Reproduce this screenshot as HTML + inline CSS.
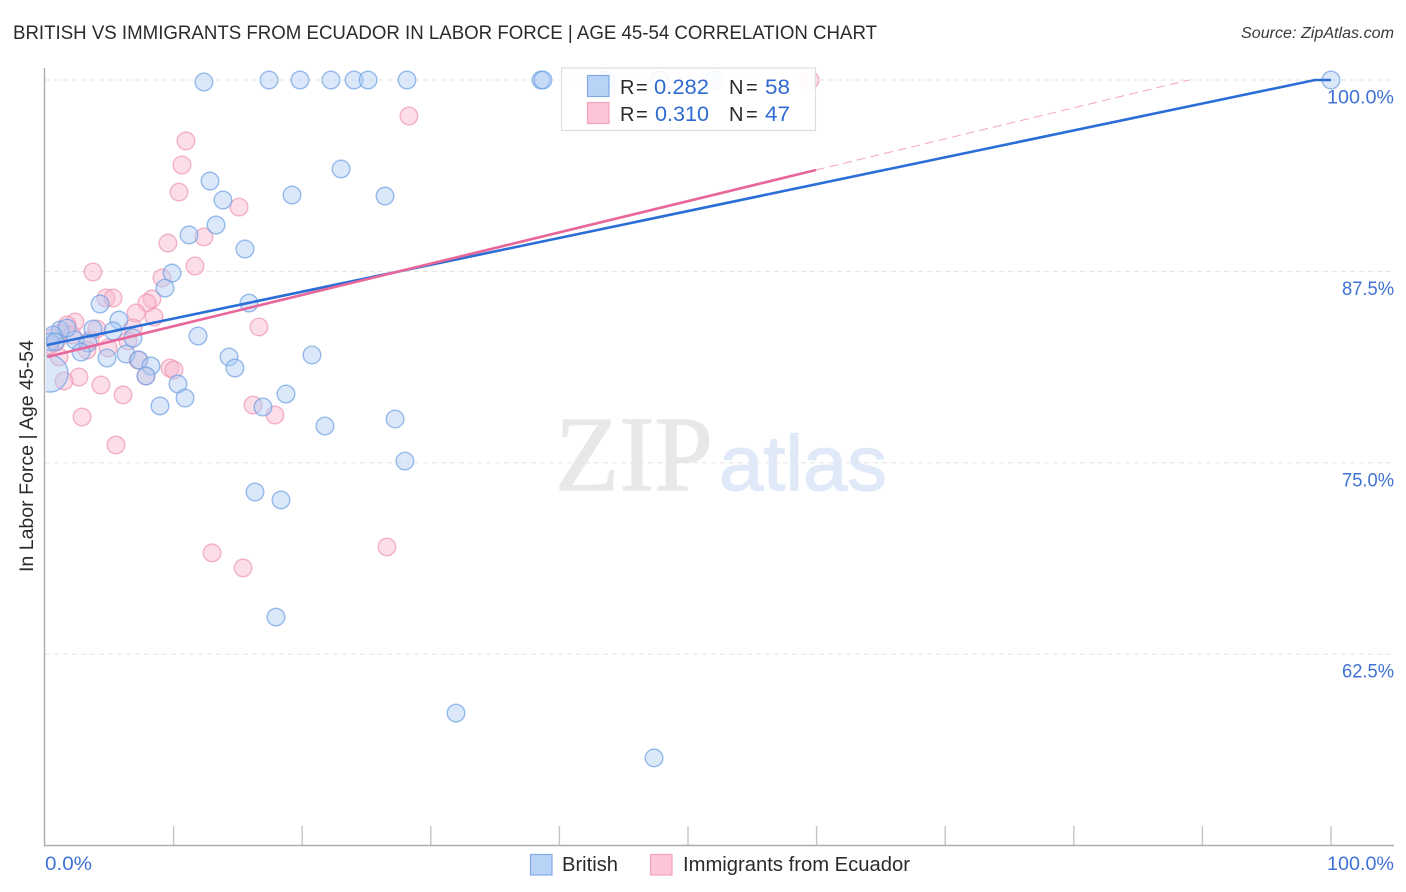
<!DOCTYPE html>
<html lang="en">
<head>
<meta charset="utf-8">
<title>British vs Immigrants from Ecuador in Labor Force Correlation Chart</title>
<style>
html,body{margin:0;padding:0;background:#fff;}
svg{display:block;font-family:"Liberation Sans",sans-serif;}
</style>
</head>
<body>
<svg id="chart" width="1406" height="892" viewBox="0 0 1406 892" xmlns="http://www.w3.org/2000/svg">
  <defs>
    <clipPath id="plot-clip"><rect x="46" y="60" width="1350" height="785"/></clipPath>
  </defs>
  <rect x="0" y="0" width="1406" height="892" fill="#ffffff"/>
  <text x="13" y="39" font-size="19" fill="#2b2b2b" textLength="864" lengthAdjust="spacingAndGlyphs">BRITISH VS IMMIGRANTS FROM ECUADOR IN LABOR FORCE | AGE 45-54 CORRELATION CHART</text>
  <text x="1241" y="38" font-size="15.5" font-style="italic" fill="#3a3a3a" textLength="153" lengthAdjust="spacingAndGlyphs">Source: ZipAtlas.com</text>

  <g>
    <text x="555" y="490" font-family="'Liberation Serif',serif" font-size="107" fill="#e8e8e8" stroke="#e8e8e8" stroke-width="1.2" textLength="158" lengthAdjust="spacingAndGlyphs">ZIP</text>
    <text x="719" y="490" font-size="78" fill="#dfe9f8" stroke="#dfe9f8" stroke-width="1.2" textLength="168" lengthAdjust="spacingAndGlyphs">atlas</text>
  </g>

  <g id="grid"></g>
  <g id="ticks"></g>
  <line x1="44.5" y1="68" x2="44.5" y2="846" stroke="#ababab" stroke-width="1.4"/>
  <line x1="44" y1="845.5" x2="1394" y2="845.5" stroke="#ababab" stroke-width="1.4"/>

  <g id="pink-points" clip-path="url(#plot-clip)"></g>
  <g id="blue-points" clip-path="url(#plot-clip)"></g>
  <g id="trends"></g>
  <g id="y-labels"></g>

  <text x="45" y="870" font-size="19" fill="#3f72d4" textLength="47" lengthAdjust="spacingAndGlyphs">0.0%</text>
  <text x="1327" y="870" font-size="19" fill="#3f72d4" textLength="67" lengthAdjust="spacingAndGlyphs">100.0%</text>
  <text transform="translate(33,572) rotate(-90)" font-size="19" fill="#2b2b2b" textLength="232" lengthAdjust="spacingAndGlyphs">In Labor Force | Age 45-54</text>

  <g>
    <rect x="561.5" y="68" width="254" height="62.5" fill="#ffffff" fill-opacity="0.9" stroke="#dddddd" stroke-width="1.2"/>
    <rect x="587.5" y="75.5" width="21.5" height="21" fill="#b9d3f6" stroke="#80abe6" stroke-width="1.2"/>
    <rect x="587.5" y="102.5" width="21.5" height="21" fill="#fcc6d8" stroke="#f2a3bc" stroke-width="1.2"/>
    <text x="620" y="94" font-size="20" fill="#2b2b2b" word-spacing="-4">R =</text>
    <text x="654" y="94" font-size="21.5" fill="#2f6bd0" textLength="55" lengthAdjust="spacingAndGlyphs">0.282</text>
    <text x="729" y="94" font-size="20" fill="#2b2b2b" word-spacing="-3">N =</text>
    <text x="765" y="94" font-size="21.5" fill="#2f6bd0" textLength="25" lengthAdjust="spacingAndGlyphs">58</text>
    <text x="620" y="121" font-size="20" fill="#2b2b2b" word-spacing="-4">R =</text>
    <text x="655" y="121" font-size="21.5" fill="#2f6bd0" textLength="54" lengthAdjust="spacingAndGlyphs">0.310</text>
    <text x="729" y="121" font-size="20" fill="#2b2b2b" word-spacing="-3">N =</text>
    <text x="765" y="121" font-size="21.5" fill="#2f6bd0" textLength="25" lengthAdjust="spacingAndGlyphs">47</text>
  </g>

  <g>
    <rect x="530.5" y="854.5" width="21.5" height="20.5" fill="#b9d3f6" stroke="#80abe6" stroke-width="1.2"/>
    <text x="562" y="871" font-size="20" fill="#2b2b2b" textLength="56" lengthAdjust="spacingAndGlyphs">British</text>
    <rect x="650.5" y="854.5" width="21.5" height="20.5" fill="#fcc6d8" stroke="#f2a3bc" stroke-width="1.2"/>
    <text x="683" y="871" font-size="20" fill="#2b2b2b" textLength="227" lengthAdjust="spacingAndGlyphs">Immigrants from Ecuador</text>
  </g>
</svg>
<script>
const xTickValues = [10, 20, 30, 40, 50, 60, 70, 80, 90, 100];
const yTickValues = [100, 87.5, 75, 62.5];
const yTickLabels = ["100.0%", "87.5%", "75.0%", "62.5%"];

const britishPoints = [
  [12.36,99.87],[17.42,100],[19.83,100],[22.24,100],[24.03,100],[25.12,100],[28.15,100],
  [38.57,100],[38.72,100],[43.62,100],[47.82,100],[52.02,100],[100,100],
  [12.83,93.40],[13.84,92.16],[19.21,92.49],[23.02,94.19],[26.44,92.42],[13.30,90.53],
  [11.20,89.88],[15.55,88.96],[9.88,87.39],[9.33,86.41],[4.28,85.37],[15.86,85.43],
  [5.75,84.32],[11.90,83.28],[3.73,83.74],[5.29,83.61],[6.84,83.15],[2.33,83.02],
  [3.34,82.82],[2.80,82.23],[4.82,81.84],[6.30,82.10],[7.31,81.71],[8.24,81.32],
  [7.85,80.67],[14.31,81.91],[14.77,81.19],[20.76,82.04],[10.34,80.14],[18.74,79.49],
  [8.94,78.71],[10.89,79.23],[16.95,78.64],[21.77,77.40],[27.22,77.86],[27.99,75.11],
  [16.33,73.09],[18.35,72.57],[17.96,64.92],[31.96,58.65],[47.36,55.72],
  [1.17,83.67],[1.71,83.80],[0.62,83.34],[0.39,82.89],[0.78,82.89]
];
const britishLargePoints = [[0.35,80.83]];
const ecuadorPoints = [
  [59.49,100],[28.30,97.65],[10.96,96.02],[10.65,94.45],[10.42,92.68],[15.09,91.70],
  [12.36,89.75],[9.56,89.35],[11.66,87.85],[3.73,87.46],[9.10,87.07],[4.74,85.76],
  [5.29,85.76],[8.32,85.70],[7.93,85.44],[7.08,84.78],[8.48,84.52],[2.33,84.19],
  [1.71,84.00],[16.64,83.87],[6.84,83.80],[3.50,83.02],[4.04,83.74],[6.45,82.95],
  [4.90,82.50],[3.27,82.36],[1.09,81.91],[7.23,81.71],[7.85,80.67],[9.72,81.19],
  [10.03,81.06],[2.64,80.60],[1.48,80.34],[4.35,80.08],[6.07,79.43],[16.17,78.77],
  [17.88,78.12],[2.88,77.99],[5.52,76.16],[12.99,69.11],[15.40,68.13],[26.59,69.50],
  [0.54,83.15],[0.86,82.89],[1.17,83.47],[0.39,82.69],[2.10,83.34]
];
const britishTrend = [[0.16,82.69],[98.76,100],[100,100]];
const ecuadorTrend = [[0.16,81.91],[59.95,94.12]];
const ecuadorTrendExtension = [[59.95,94.12],[88.96,100]];

const NS = "http://www.w3.org/2000/svg";
function xScale(v){ return 45 + v * 12.86; }
function yScale(v){ return 80 + (100 - v) * 15.31; }
function make(tag, attrs){
  const el = document.createElementNS(NS, tag);
  for (const k in attrs) el.setAttribute(k, attrs[k]);
  return el;
}
const gridG = document.getElementById("grid");
const ticksG = document.getElementById("ticks");
const yLabelsG = document.getElementById("y-labels");
const blueG = document.getElementById("blue-points");
const pinkG = document.getElementById("pink-points");
const trendG = document.getElementById("trends");

yTickValues.forEach(function(v, i){
  const line = make("line", {x1:45, x2:1394, y1:yScale(v), y2:yScale(v), stroke:"#e3e3e3", "stroke-width":1, "stroke-dasharray":"5 4"});
  
  
  gridG.appendChild(line);
  const text = yTickLabels[i];
  const labelWidth = text.length > 5 ? 67 : 52;
  const label = make("text", {x:1394 - labelWidth, y:yScale(v)+23.5, "font-size":19, fill:"#3f72d4", textLength:labelWidth, lengthAdjust:"spacingAndGlyphs"});
  
  
  label.textContent = text;
  yLabelsG.appendChild(label);
});

xTickValues.forEach(function(v){
  const tick = make("line", {x1:xScale(v), x2:xScale(v), y1:826, y2:845, stroke:"#c4c4c4", "stroke-width":1.4});
  
  
  ticksG.appendChild(tick);
});

function drawPoints(group, points, radius, fill, stroke, name){
  points.forEach(function(p){
    const c = make("circle", {cx:xScale(p[0]), cy:yScale(p[1]), r:radius, fill:fill, "fill-opacity":0.45, stroke:stroke, "stroke-opacity":0.7, "stroke-width":1.4});
    
    
    group.appendChild(c);
  });
}
drawPoints(pinkG, ecuadorPoints, 8.8, "#f9b6cb", "#f096b3", "ecuador-point");
drawPoints(blueG, britishPoints, 8.8, "#aecbf3", "#6f9fe3", "british-point");
drawPoints(blueG, britishLargePoints, 18.5, "#aecbf3", "#6f9fe3", "british-point-large");

function toPath(points){
  return points.map(function(p, i){ return (i ? "L" : "M") + xScale(p[0]) + " " + yScale(p[1]); }).join(" ");
}
const extension = make("path", {d:toPath(ecuadorTrendExtension), fill:"none", stroke:"#f2a5bd", "stroke-width":1, "stroke-dasharray":"9 5"});


trendG.appendChild(extension);
const blueLine = make("path", {d:toPath(britishTrend), fill:"none", stroke:"#2b6fd6", "stroke-width":2.6});


trendG.appendChild(blueLine);
const pinkLine = make("path", {d:toPath(ecuadorTrend), fill:"none", stroke:"#e8679a", "stroke-width":2.6});


trendG.appendChild(pinkLine);
</script>
</body>
</html>
